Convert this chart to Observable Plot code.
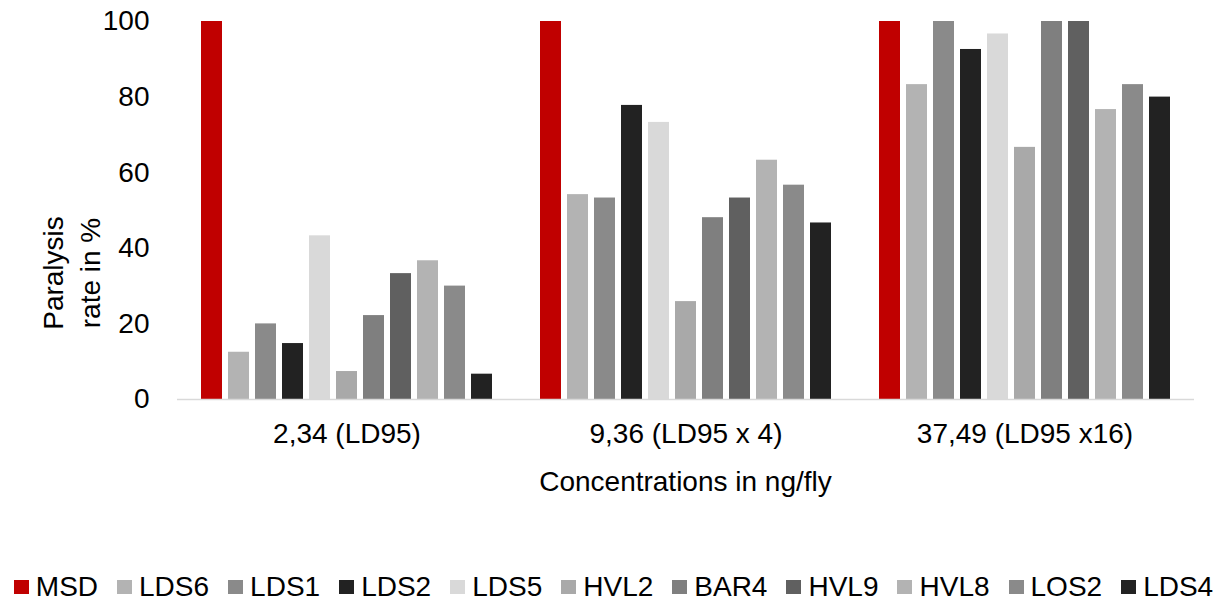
<!DOCTYPE html>
<html>
<head>
<meta charset="utf-8">
<script src="https://cdn.jsdelivr.net/npm/d3@7"></script>
<script src="https://cdn.jsdelivr.net/npm/@observablehq/plot@0.6"></script>
<style>
  html, body { margin: 0; padding: 0; background: #fff; }
  #wrap { position: relative; width: 1227px; height: 600px; font-family: "Liberation Sans", Arial, sans-serif; color: #000; }
  #ylabel { position: absolute; width: 200px; left: -28px; top: 236px; height: 74px; text-align: center; font-size: 28px; line-height: 37px; transform: rotate(-90deg); transform-origin: center; white-space: nowrap; }
  #xlabel { position: absolute; left: 177px; width: 1017px; top: 468px; text-align: center; font-size: 28px; line-height: 28px; }
  #legend { position: absolute; left: 0; width: 1227px; top: 573px; height: 28px; display: flex; justify-content: center; align-items: center; font-size: 28px; line-height: 28px; white-space: nowrap; }
  .item { display: flex; align-items: center; margin: 0 9.5px; }
  .sw { width: 15px; height: 14px; margin-right: 7px; }
</style>
</head>
<body>
<div id="wrap">
  <div id="chart"></div>
  <div id="ylabel">Paralysis<br>rate in %</div>
  <div id="xlabel">Concentrations in ng/fly</div>
  <div id="legend"></div>
</div>
<script>
const groups = ["2,34 (LD95)", "9,36 (LD95 x 4)", "37,49 (LD95 x16)"];
const series = ["MSD", "LDS6", "LDS1", "LDS2", "LDS5", "HVL2", "BAR4", "HVL9", "HVL8", "LOS2", "LDS4"];
const colors = ["#c00000", "#b3b3b3", "#8a8a8a", "#222222", "#d9d9d9", "#a9a9a9", "#7f7f7f", "#606060", "#b3b3b3", "#8a8a8a", "#222222"];
const values_234 = [100, 12.5, 20, 14.8, 43.3, 7.4, 22.2, 33.3, 36.7, 30, 6.7];
const values_936 = [100, 54.2, 53.3, 77.8, 73.3, 25.9, 48.1, 53.3, 63.3, 56.7, 46.7];
const values_3749 = [100, 83.3, 100, 92.6, 96.7, 66.7, 100, 100, 76.7, 83.3, 80];
const yTicks = [0, 20, 40, 60, 80, 100];

const allValues = [values_234, values_936, values_3749];
const data = [];
groups.forEach((g, gi) => series.forEach((s, si) => data.push({group: g, series: s, value: allValues[gi][si]})));

const plot = Plot.plot({
  width: 1227,
  height: 520,
  marginLeft: 177,
  marginRight: 33,
  marginTop: 21,
  marginBottom: 121,
  style: {fontFamily: "Liberation Sans, Arial, sans-serif", color: "#000", background: "#fff"},
  fx: {domain: groups, padding: 0, label: null},
  x: {domain: series, paddingInner: 0.21, paddingOuter: 0.87, axis: null},
  y: {domain: [0, 100], label: null},
  color: {domain: series, range: colors},
  marks: [
    Plot.axisY({ticks: yTicks, tickSize: 0, tickPadding: 28, fontSize: 28, label: null}),
    Plot.axisFx({anchor: "bottom", tickSize: 0, tickPadding: 24, fontSize: 28, label: null}),
    Plot.barY(data, {fx: "group", x: "series", y: "value", fill: "series"}),
    Plot.ruleY([0], {stroke: "#d9d9d9", strokeWidth: 1.5})
  ]
});
document.getElementById("chart").appendChild(plot);

const legend = document.getElementById("legend");
series.forEach((s, i) => {
  const item = document.createElement("div");
  item.className = "item";
  const sw = document.createElement("span");
  sw.className = "sw";
  sw.style.background = colors[i];
  const t = document.createElement("span");
  t.textContent = s;
  item.appendChild(sw);
  item.appendChild(t);
  legend.appendChild(item);
});
</script>
</body>
</html>
